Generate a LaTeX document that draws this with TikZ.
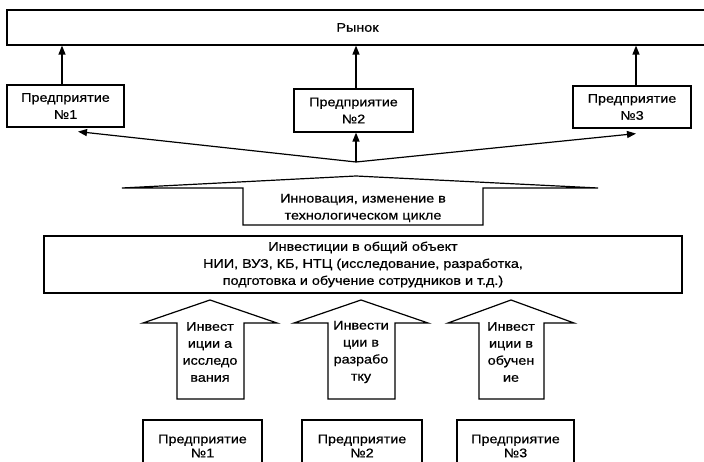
\documentclass[tikz,border=0pt]{standalone}
\usepackage{fontspec}
\setmainfont{Liberation Sans}[FakeStretch=1.15,FakeBold=0.6]
\usetikzlibrary{arrows.meta}
\begin{document}
\begin{tikzpicture}[x=1pt,y=-1pt,
  lw/.style={line width=1.2pt},
  txt/.style={align=center,inner sep=0pt,font=\fontsize{12.5}{17}\selectfont},
  box/.style={txt,draw,lw},
  arr/.style={lw,-{Triangle[length=9pt,width=7pt]}},
  bigarrow/.style={lw}
]
\useasboundingbox (0,0) rectangle (704,462);
% market
\node[box,minimum width=701pt,minimum height=35pt] (market) at (357.5,27.5) {Рынок};
% top enterprises
\node[box,minimum width=117pt,minimum height=42pt] (e1) at (65.5,106) {Предприятие\\№1};
\node[box,minimum width=119pt,minimum height=43pt] (e2) at (353.5,110.5) {Предприятие\\№2};
\node[box,minimum width=118pt,minimum height=42pt] (e3) at (632,107) {Предприятие\\№3};
\draw[arr] ([xshift=-3.5pt]e1.north) -- ([xshift=-3.5pt]e1.north |- market.south);
\draw[arr] ([xshift=2.5pt]e2.north) -- ([xshift=2.5pt]e2.north |- market.south);
\draw[arr] ([xshift=4pt]e3.north) -- ([xshift=4pt]e3.north |- market.south);
% convergence
\coordinate (c) at (356,162);
\draw[arr] (c) -- ([xshift=12.5pt,yshift=-4pt]e1.south);
\draw[arr] (c) -- ([xshift=2.5pt]e2.south);
\draw[arr] (c) -- ([xshift=4pt,yshift=-5pt]e3.south);
% innovation big arrow
\draw[bigarrow] (122,188) -- (356,176) -- (598,188) -- (483,188) -- (483,225) -- (243,225) -- (243,188) -- cycle;
\node[txt] (innov) at (363,208) {Инновация, изменение в\\технологическом цикле};
% common investment
\node[box,minimum width=638pt,minimum height=57pt] (inv) at (363,264.5) {Инвестиции в общий объект\\НИИ, ВУЗ, КБ, НТЦ (исследование, разработка,\\подготовка и обучение сотрудников и т.д.)};
% up arrows
\draw[bigarrow] (143,323) -- (210,300) -- (277,323) -- (244,323) -- (244,399) -- (177,399) -- (177,323) -- cycle;
\node[txt] (a1) at (210,352) {Инвест\\иции а\\исследо\\вания};
\draw[bigarrow] (294,323) -- (361,300) -- (428,323) -- (395,323) -- (395,399) -- (328,399) -- (328,323) -- cycle;
\node[txt] (a2) at (361,352) {Инвести\\ции в\\разрабо\\тку};
\draw[bigarrow] (448,323) -- (511,300) -- (574,323) -- (544,323) -- (544,399) -- (479,399) -- (479,323) -- cycle;
\node[txt] (a3) at (511,352) {Инвест\\иции в\\обучен\\ие};
% bottom enterprises
\node[box,minimum width=119pt,minimum height=52pt,font=\fontsize{12.5}{14}\selectfont] (f1) at (202.5,446) {Предприятие\\№1};
\node[box,minimum width=120pt,minimum height=52pt,font=\fontsize{12.5}{14}\selectfont] (f2) at (362,446) {Предприятие\\№2};
\node[box,minimum width=117pt,minimum height=52pt,font=\fontsize{12.5}{14}\selectfont] (f3) at (515.5,446) {Предприятие\\№3};
\end{tikzpicture}
\end{document}
